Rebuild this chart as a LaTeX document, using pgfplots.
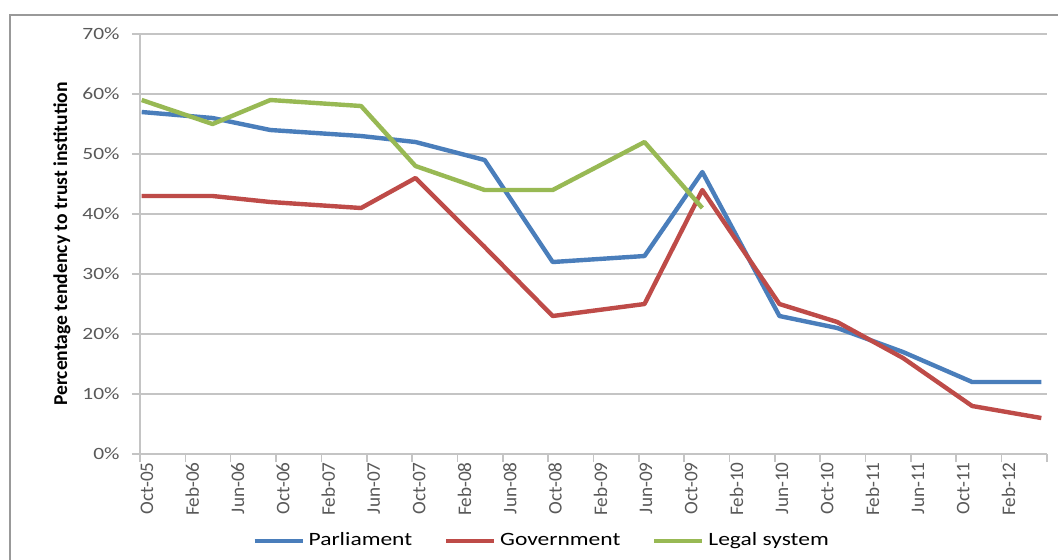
\documentclass[border=0pt]{standalone}
\usepackage{fontspec}
\setmainfont{Carlito}
\newfontfamily\hfont{Carlito}[FakeStretch=1.25]
\usepackage{pgfplots}
\pgfplotsset{compat=1.18}
\definecolor{parl}{HTML}{4A7EBB}
\definecolor{gov}{HTML}{BE4B48}
\definecolor{leg}{HTML}{98B954}
\definecolor{gridc}{HTML}{C4C4C4}
\definecolor{tickc}{HTML}{595959}
\begin{document}
\begin{tikzpicture}
\clip (-70pt,-52.5pt) rectangle (459pt,227pt);
\fill[white] (-70pt,-52.5pt) rectangle (459pt,227pt);
\draw[color=gray!80, line width=0.9pt] (-65pt,219.5pt) rectangle (470pt,-70pt);
\begin{axis}[
  at={(0,0)}, anchor=south west,
  scale only axis, width=453.5pt, height=210pt,
  xmin=0, xmax=80, ymin=0, ymax=70,
  axis x line*=bottom, axis y line*=left,
  axis line style={-, color=gridc, line width=0.8pt},
  xtick={0,4,...,80},
  xticklabels={Oct-05,Feb-06,Jun-06,Oct-06,Feb-07,Jun-07,Oct-07,Feb-08,Jun-08,Oct-08,Feb-09,Jun-09,Oct-09,Feb-10,Jun-10,Oct-10,Feb-11,Jun-11,Oct-11,Feb-12,{}},
  ytick={0,10,...,70},
  yticklabels={0\%,10\%,20\%,30\%,40\%,50\%,60\%,70\%},
  tick align=outside, major tick length=4pt,
  tick style={color=gridc, line width=0.8pt},
  ymajorgrids, grid style={color=gridc, line width=0.9pt},
  xticklabel style={rotate=90, anchor=east, inner sep=0pt, yshift=-3.5pt, font=\fontsize{9.6pt}{11pt}\selectfont, text=tickc},
  yticklabel style={anchor=east, inner sep=0pt, xshift=-6pt, font=\hfont\fontsize{8.6pt}{10pt}\selectfont, text=tickc},
  ylabel={Percentage tendency to trust institution},
  ylabel style={at={(axis description cs:-0.086,0.5)}, anchor=center, font=\bfseries\fontsize{9.8pt}{11pt}\selectfont},
  legend columns=3,
  legend style={at={(axis description cs:0.444,-0.207)}, anchor=center, draw=none, fill=none,
    font=\hfont\fontsize{9.4pt}{11pt}\selectfont, inner sep=0pt,
    /tikz/every even column/.append style={column sep=14pt}},
  legend cell align=left,
  legend image code/.code={\draw[#1, line width=2pt] (0pt,0pt) -- (24pt,0pt);},
  every axis plot/.append style={line width=2.2pt, line join=round, no markers},
]
\addplot[color=parl] coordinates {
(0.15,57) (6.4,56) (11.5,54) (19.5,53) (24.3,52) (30.4,49) (36.4,32) (44.5,33) (49.6,47) (56.4,23) (61.5,21) (67.3,17) (73.4,12) (79.5,12)};
\addlegendentry{Parliament}
\addplot[color=gov] coordinates {
(0.15,43) (6.4,43) (11.5,42) (19.5,41) (24.3,46) (30.4,34.5) (36.4,23) (44.5,25) (49.6,44) (56.4,25) (61.5,22) (67.3,16) (73.4,8) (79.5,6)};
\addlegendentry{Government}
\addplot[color=leg] coordinates {
(0.15,59) (6.4,55) (11.5,59) (19.5,58) (24.3,48) (30.4,44) (36.4,44) (44.5,52) (49.6,41)};
\addlegendentry{Legal system}
\end{axis}
\end{tikzpicture}
\end{document}
